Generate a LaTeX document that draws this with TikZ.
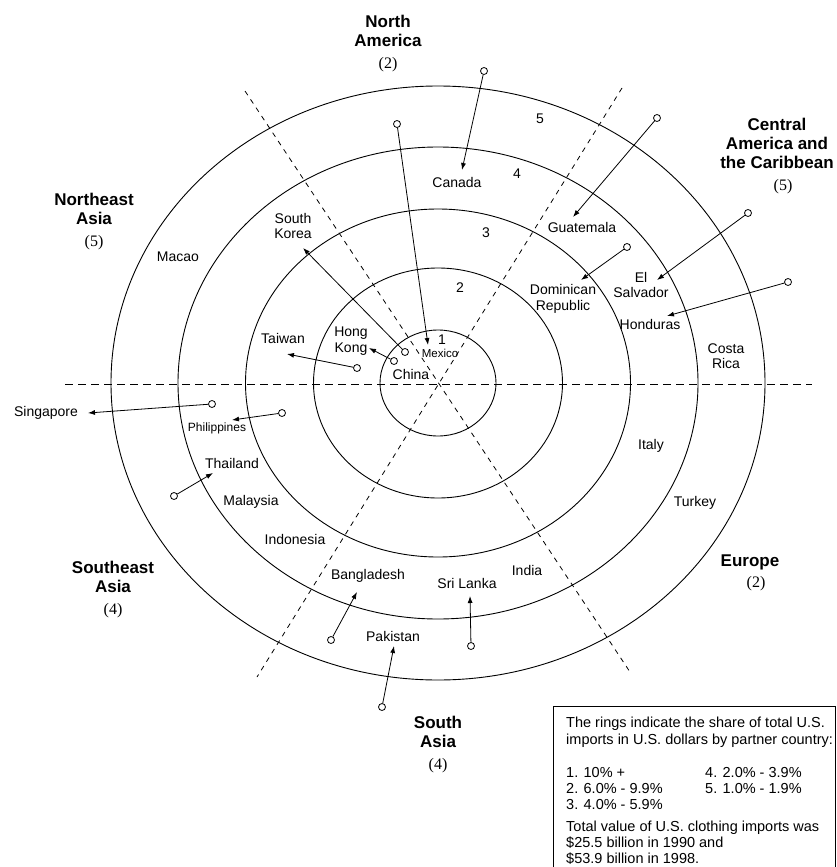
\documentclass[tikz,border=0pt]{standalone}
\usepackage{fontspec}
\setmainfont{Liberation Sans}
\newfontfamily\numfont{Liberation Serif}
\usepackage{tikz}
\usetikzlibrary{positioning}
\usetikzlibrary{arrows.meta}

\begin{document}
\begin{tikzpicture}[
    x = 1pt, y = -1pt,
    every node/.style = {inner sep = 1pt, font = \fontsize{14}{15.5}\selectfont},
    ring/.style = {line width = 0.9pt},
    divider/.style = {line width = 0.8pt, dash pattern = on 5pt off 5pt},
    region/.style = {align = center, text depth = 4pt, font = \bfseries\fontsize{17}{19}\selectfont},
    count/.style = {font = \numfont\fontsize{16}{17}\selectfont},
    country/.style = {align = center},
    small/.style = {font = \fontsize{11.5}{12}\selectfont},
    pin/.style = {draw, circle, fill = white, minimum size = 7pt, inner sep = 0pt, line width = 0.8pt},
    pointer/.style = {line width = 0.8pt, -{Latex[length = 7pt, width = 5pt]}},
    legend/.style = {anchor = base west, inner sep = 0pt, font = \fontsize{14.5}{16.5}\selectfont}
    ]
    \useasboundingbox (0,0) rectangle (836,867);

    \coordinate (hub) at (438,383);
    \foreach \rx/\ry in {58/53, 124.5/115, 192.5/174, 260/236, 327/297}
        \draw[ring] (hub) ellipse [x radius = \rx, y radius = \ry];

    \coordinate (east) at (812,384);
    \coordinate (west) at (65,384);
    \coordinate (nw) at (245,91);
    \coordinate (se) at (630,672);
    \coordinate (ne) at (622,88);
    \coordinate (sw) at (257,677);
    \draw[divider, dash pattern = on 8pt off 5pt] (west) -- (east);
    \draw[divider] (nw) -- (se);
    \draw[divider] (ne) -- (sw);

    \node (ring-1) at (442,340) {1};
    \node (ring-2) at (460,288) {2};
    \node (ring-3) at (486,233) {3};
    \node (ring-4) at (517,174) {4};
    \node (ring-5) at (540,119) {5};

    \node[region] (north-america) at (388,32.5) {North\\America};
    \node[count, below = 4.5pt of north-america] (north-america-n) {(2)};
    \node[region] (ne-asia) at (94,211) {Northeast\\Asia};
    \node[count, below = 4.5pt of ne-asia] (ne-asia-n) {(5)};
    \node[region] (caribbean) at (777,145.5) {Central\\America and\\the Caribbean};
    \node[count, below = 4.5pt of caribbean, xshift = 6pt] (caribbean-n) {(5)};
    \node[region] (europe) at (750,563) {Europe};
    \node[count, below = 3.5pt of europe, xshift = 6pt] (europe-n) {(2)};
    \node[region] (se-asia) at (113,578.5) {Southeast\\Asia};
    \node[count, below = 4.5pt of se-asia] (se-asia-n) {(4)};
    \node[region] (south-asia) at (438,733.5) {South\\Asia};
    \node[count, below = 4.5pt of south-asia] (south-asia-n) {(4)};

    \node[country] (canada) at (457,182) {Canada};
    \node[country, small] (mexico) at (440,353) {Mexico};
    \node[country] (guatemala) at (582,227) {Guatemala};
    \node[country] (dominican) at (563,299) {Dominican\\Republic};
    \node[country] (salvador) at (641,285) {El\\Salvador};
    \node[country] (honduras) at (650,324) {Honduras};
    \node[country] (costa-rica) at (726,356) {Costa\\Rica};
    \node[country] (italy) at (651,446) {Italy};
    \node[country] (turkey) at (695,503) {Turkey};
    \node[country] (india) at (527,570) {India};
    \node[country] (sri-lanka) at (467,583) {Sri Lanka};
    \node[country] (pakistan) at (393,636) {Pakistan};
    \node[country] (bangladesh) at (368,576) {Bangladesh};
    \node[country] (indonesia) at (295,539) {Indonesia};
    \node[country] (malaysia) at (251,502) {Malaysia};
    \node[country] (thailand) at (232,463) {Thailand};
    \node[country, font = \fontsize{12}{13}\selectfont] (philippines) at (217,428) {Philippines};
    \node[country] (singapore) at (46,413) {Singapore};
    \node[country] (taiwan) at (283,338) {Taiwan};
    \node[country] (hong-kong) at (351,341) {Hong\\Kong};
    \node[country] (china) at (411,374) {China};
    \node[country] (south-korea) at (293,226) {South\\Korea};
    \node[country] (macao) at (178,257) {Macao};

    \node[pin] (canada-pin) at (484,71) {};
    \node[pin] (mexico-pin) at (397,124) {};
    \node[pin] (guatemala-pin) at (657,118) {};
    \node[pin] (dominican-pin) at (627,247) {};
    \node[pin] (salvador-pin) at (748,213) {};
    \node[pin] (honduras-pin) at (788,282) {};
    \node[pin] (taiwan-pin) at (357,368) {};
    \node[pin] (hong-kong-pin) at (394,361) {};
    \node[pin] (south-korea-pin) at (405,352) {};
    \node[pin] (singapore-pin) at (212,404) {};
    \node[pin] (philippines-pin) at (282,413) {};
    \node[pin] (thailand-pin) at (174,496) {};
    \node[pin] (bangladesh-pin) at (331,640) {};
    \node[pin] (pakistan-pin) at (382,707) {};
    \node[pin] (sri-lanka-pin) at (471,646) {};

    \coordinate (canada-tip) at (462,170);
    \coordinate (mexico-tip) at (428,345);
    \coordinate (guatemala-tip) at (573,217);
    \coordinate (dominican-tip) at (581,280);
    \coordinate (salvador-tip) at (657,280);
    \coordinate (honduras-tip) at (667,316);
    \coordinate (taiwan-tip) at (287,354);
    \coordinate (hong-kong-tip) at (369,348);
    \coordinate (south-korea-tip) at (303,248);
    \coordinate (singapore-tip) at (88,413);
    \coordinate (philippines-tip) at (232,420);
    \coordinate (thailand-tip) at (213,473);
    \coordinate (bangladesh-tip) at (357,592);
    \coordinate (pakistan-tip) at (394,646);
    \coordinate (sri-lanka-tip) at (470,596);

    \foreach \c in {canada, mexico, guatemala, dominican, salvador, honduras,
                    taiwan, hong-kong, south-korea, singapore, philippines,
                    thailand, bangladesh, pakistan, sri-lanka}
        \draw[pointer] (\c-pin) -- (\c-tip);

    \node[draw, line width = 0.8pt, anchor = north west, inner sep = 0pt,
          minimum width = 282pt, minimum height = 161pt] (legend) at (553,706) {};
    \node[legend] (legend-1) at (566,727) {The rings indicate the share of total U.S.};
    \node[legend] (legend-2) at (566,744) {imports in U.S. dollars by partner country:};
    \node[legend] (legend-3) at (566,777) {1. 10\% +};
    \node[legend] (legend-4) at (566,793) {2. 6.0\% - 9.9\%};
    \node[legend] (legend-5) at (566,809) {3. 4.0\% - 5.9\%};
    \node[legend] (legend-6) at (705,777) {4. 2.0\% - 3.9\%};
    \node[legend] (legend-7) at (705,793) {5. 1.0\% - 1.9\%};
    \node[legend] (legend-8) at (566,831) {Total value of U.S. clothing imports was};
    \node[legend] (legend-9) at (566,847) {\$25.5 billion in 1990 and};
    \node[legend] (legend-10) at (566,863) {\$53.9 billion in 1998.};
\end{tikzpicture}
\end{document}
